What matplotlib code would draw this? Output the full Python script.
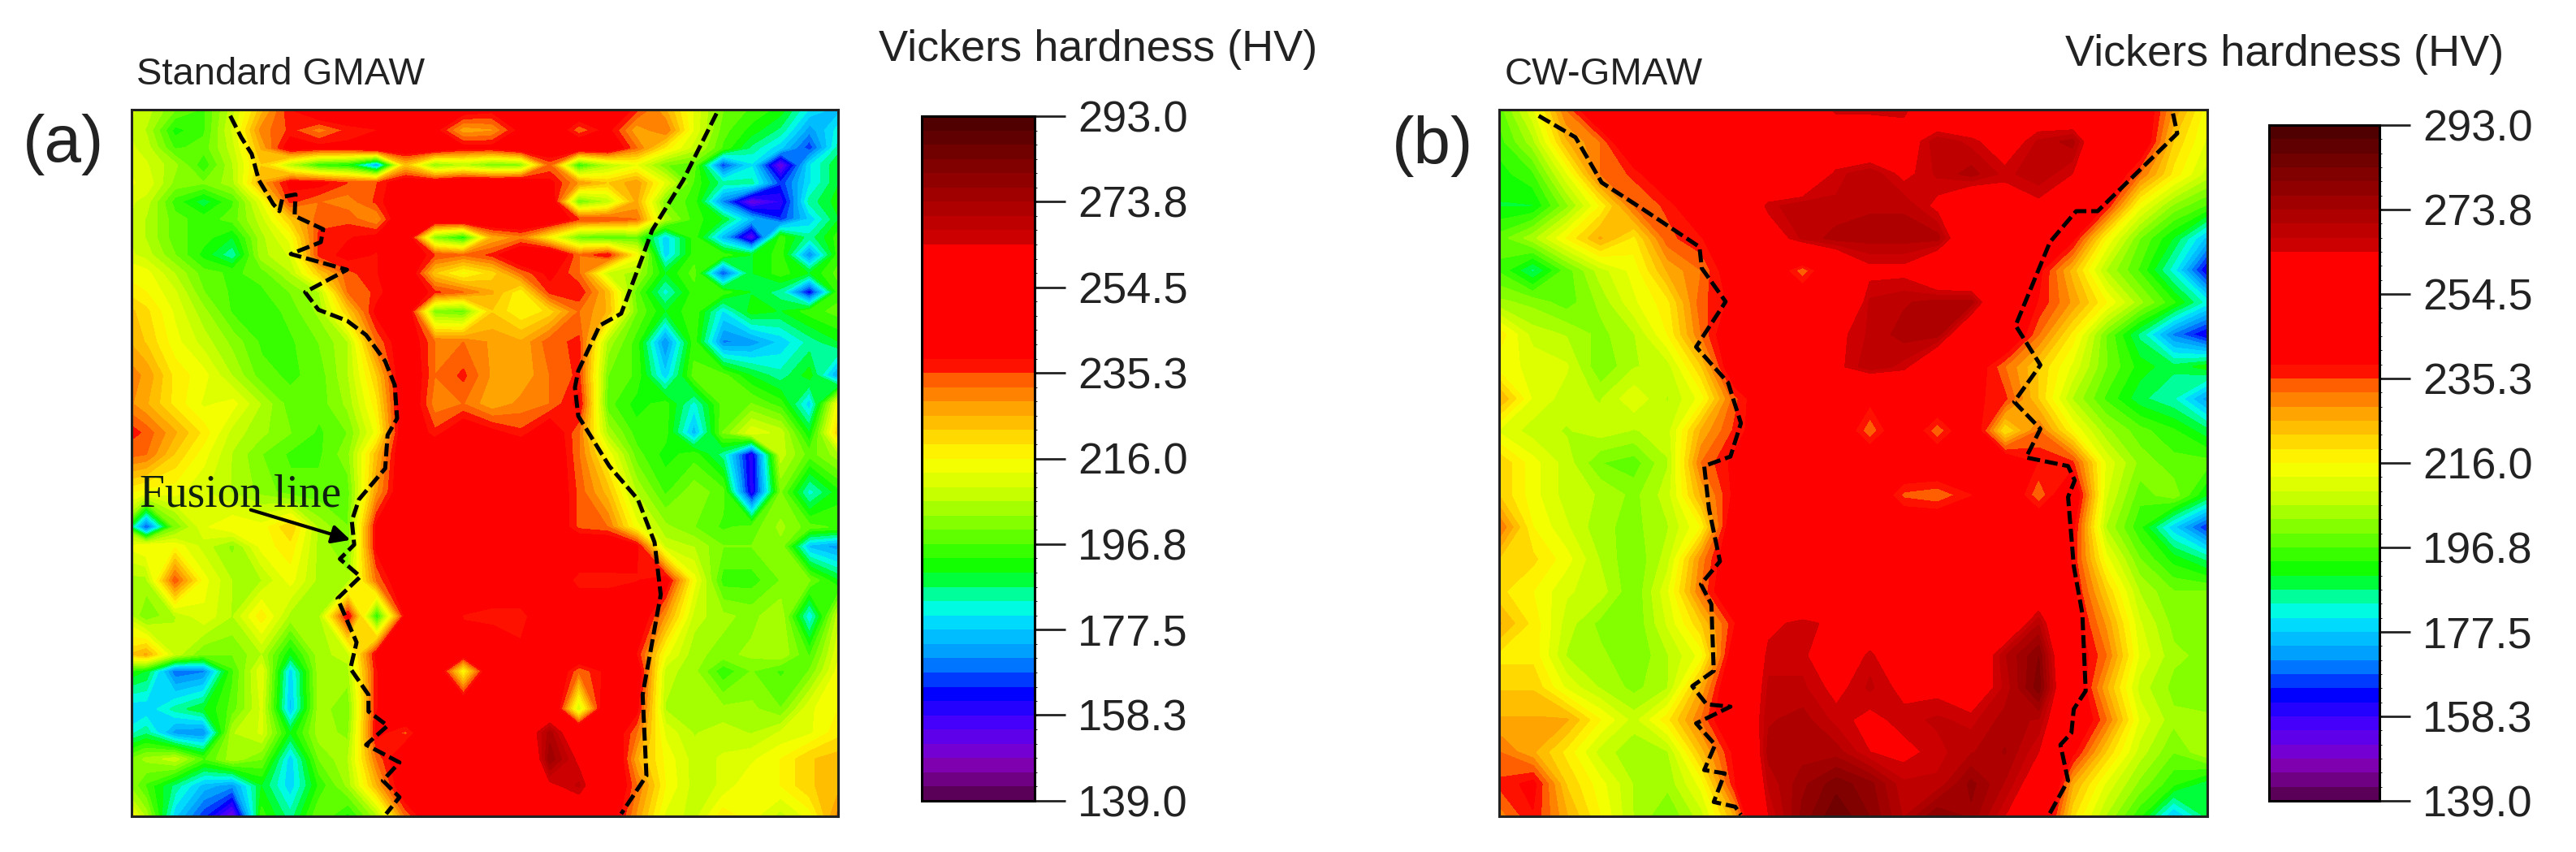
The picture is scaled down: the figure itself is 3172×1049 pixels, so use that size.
import matplotlib
matplotlib.use('Agg')
import matplotlib.pyplot as plt
import numpy as np
from matplotlib.colors import LinearSegmentedColormap, BoundaryNorm

W, H = 3172, 1049

# hardness scale
vmin, vmax = 139.0, 293.0
tick_vals = [139.0, 158.3, 177.5, 196.8, 216.0, 235.3, 254.5, 273.8, 293.0]
tick_labels = ['139.0', '158.3', '177.5', '196.8', '216.0', '235.3', '254.5', '273.8', '293.0']

xa = [8 + 60.5 * k for k in range(26)]
ya = [42, 85, 122, 158, 196, 235, 272, 310, 347, 385, 425, 465, 530, 600, 660, 720, 765, 845, 918, 958,
      1030, 1105, 1185, 1220, 1300, 1350, 1405, 1460, 1525]
hv_a = [
    [212,208,200,196,208,224,238,246,246,246,246,246,242,240,246,246,246,248,236,226,212,200,196,192,180,176],
    [212,206,192,196,210,230,236,230,236,238,248,240,226,228,240,246,232,240,226,232,212,198,192,186,172,182],
    [212,208,196,198,208,226,242,240,240,246,246,246,240,240,246,246,246,246,232,218,208,196,186,178,165,185],
    [214,210,204,194,206,222,205,192,190,170,222,200,205,198,200,232,192,205,212,200,198,165,180,150,180,190],
    [214,212,202,200,205,226,240,240,235,235,244,244,248,248,248,240,228,222,228,212,196,185,185,165,180,190],
    [212,208,195,188,196,212,236,232,230,236,246,246,246,248,248,246,198,206,226,200,195,170,150,158,185,192],
    [212,206,198,195,198,208,222,234,234,228,248,246,248,248,248,246,235,235,232,205,195,190,175,165,178,190],
    [212,206,198,195,190,205,214,236,238,240,246,200,190,225,230,215,198,195,198,178,195,175,152,195,185,195],
    [212,208,200,192,184,205,210,236,240,238,246,235,232,236,246,248,232,238,215,178,195,195,190,195,170,195],
    [216,214,206,198,196,198,206,222,234,238,246,222,214,220,232,240,232,208,205,190,198,165,190,195,190,198],
    [220,216,210,200,196,196,200,206,232,236,246,236,232,226,216,236,238,224,198,182,195,195,190,185,160,195],
    [226,220,212,204,196,194,198,204,222,240,246,200,198,222,216,220,232,225,200,190,196,180,192,190,195,198],
    [228,222,214,208,202,196,196,200,206,232,244,232,232,228,226,234,236,205,195,170,195,170,172,178,185,190],
    [232,228,218,214,206,198,196,198,206,222,246,232,236,228,226,232,236,200,196,178,198,198,190,185,192,172],
    [232,226,218,212,214,206,198,198,204,218,246,230,232,226,230,232,240,198,192,195,182,198,200,195,178,215],
    [240,234,226,218,208,204,200,196,200,214,246,236,244,240,236,244,232,205,195,195,175,200,212,208,190,222],
    [234,232,222,214,206,200,196,196,202,224,246,246,246,246,246,246,232,215,198,192,195,185,158,208,198,205],
    [218,214,214,210,206,202,198,198,198,228,246,246,246,246,246,246,234,224,206,196,202,198,158,200,182,192],
    [205,165,200,212,216,214,222,205,200,240,246,246,246,246,246,246,234,232,214,204,200,196,198,204,198,196],
    [212,216,215,208,202,214,218,205,200,240,246,240,246,246,246,246,246,246,240,208,206,200,200,202,176,172],
    [205,205,234,214,206,206,214,205,204,232,246,240,246,246,246,246,236,236,238,242,214,195,195,200,200,190],
    [212,200,206,212,206,218,205,205,240,192,240,246,238,236,236,246,246,246,246,228,208,204,202,206,180,208],
    [220,226,208,200,200,206,190,205,208,240,246,246,242,246,240,246,246,246,238,214,204,202,204,206,196,212],
    [196,190,168,170,196,212,178,205,205,238,248,248,214,248,246,248,232,240,244,208,204,194,200,196,200,214],
    [178,178,185,190,198,210,176,205,200,238,248,250,250,250,258,252,208,248,240,206,204,204,204,200,212,216],
    [180,186,172,170,206,210,190,205,202,240,234,248,250,252,254,272,252,246,232,212,206,208,206,210,212,218],
    [196,204,208,196,205,200,178,200,206,232,246,248,250,246,240,276,262,252,226,215,208,210,212,216,222,224],
    [208,196,186,176,172,190,178,194,204,225,246,248,250,248,248,262,268,250,232,216,208,210,216,216,222,224],
    [226,205,178,165,150,195,185,200,192,205,232,246,248,250,250,256,254,246,228,212,208,218,214,208,214,230],
]

# panel (b)
xb = [45 + 70.7 * k for k in range(22)]
yb = [42 + 67.4 * k for k in range(23)]
hv_b = [
    [198,212,232,248,255,258,250,252,248,250,266,266,266,250,248,258,255,250,246,246,228,214],
    [195,205,225,232,248,250,254,248,248,248,250,252,258,270,266,258,268,272,248,246,222,212],
    [192,196,212,232,236,246,248,248,248,248,266,270,262,268,272,266,270,264,248,232,218,208],
    [190,190,202,216,232,236,246,248,266,270,268,270,270,262,250,258,262,250,238,214,202,196],
    [198,205,216,226,218,234,238,246,258,268,272,272,272,272,250,256,248,240,216,200,190,176],
    [196,186,198,208,214,226,232,244,246,232,248,262,262,250,248,246,240,224,206,196,182,160],
    [204,202,198,204,212,218,234,240,246,246,246,268,270,272,272,246,238,228,216,204,194,182],
    [218,208,206,202,206,216,232,246,248,246,262,268,272,272,250,248,232,218,200,186,170,160],
    [214,212,210,200,206,208,222,246,246,246,262,270,266,250,244,232,222,212,200,192,188,192],
    [226,212,208,206,212,206,214,234,246,246,246,240,246,246,240,236,222,206,196,188,184,172],
    [212,208,206,208,206,208,226,236,244,246,246,232,246,232,246,218,232,216,204,198,194,188],
    [222,214,208,200,198,206,232,240,246,246,246,246,246,246,246,246,238,236,212,202,198,198],
    [222,214,208,206,202,208,226,240,246,246,246,246,234,232,238,246,232,246,210,198,202,190],
    [232,216,210,204,202,206,216,246,246,246,250,246,246,246,246,246,246,240,206,194,178,164],
    [222,220,214,206,200,208,230,246,246,246,246,246,246,246,246,246,246,238,214,200,192,186],
    [220,216,210,208,200,212,232,248,250,248,246,246,246,246,246,246,254,240,222,206,200,200],
    [226,218,208,202,200,210,222,238,262,266,262,252,246,246,246,252,270,242,228,210,202,200],
    [218,218,206,204,200,206,214,244,266,266,252,266,250,252,252,270,280,244,232,212,204,202],
    [222,222,212,206,202,206,226,248,268,268,262,268,262,262,256,268,282,246,226,208,202,200],
    [226,226,226,216,208,218,232,248,270,272,266,262,266,268,266,272,270,248,232,212,204,204],
    [232,226,218,208,204,206,224,240,272,272,272,264,262,266,270,274,264,240,222,208,200,206],
    [236,240,222,214,206,204,214,238,268,276,282,278,268,268,278,270,258,226,212,202,194,188],
    [230,238,226,216,206,200,208,226,264,278,286,280,270,280,276,264,250,220,206,194,176,188],
]

# fusion lines
fusion_a_left = [(245,55),(268,100),(290,135),(305,190),(335,240),(348,255),(355,225),(382,220),(380,265),(440,293),
                 (435,320),(372,345),(490,378),(402,425),(430,462),(490,485),(530,515),(570,570),(590,620),(595,690),
                 (575,725),(570,795),(515,860),(500,905),(505,955),(475,985),(518,1022),(470,1068),(510,1160),(497,1215),
                 (535,1270),(535,1305),(575,1335),(530,1375),(600,1412),(565,1450),(600,1485),(572,1520)]
fusion_a_right = [(1265,50),(1195,190),(1130,295),(1110,350),(1065,470),(1020,495),(975,590),(968,625),(975,685),
                  (1040,790),(1100,860),(1135,950),(1148,1060),(1110,1270),(1118,1440),(1065,1520)]
fusion_b_left = [(128,55),(205,100),(260,195),(345,250),(465,330),(470,375),(520,445),(458,540),(525,615),(552,700),
                 (530,770),(475,790),(485,880),(508,990),(468,1038),(490,1080),(495,1220),(450,1252),(480,1290),(530,1295),
                 (458,1330),(498,1375),(475,1428),(518,1435),(495,1495),(540,1505),(552,1522)]
fusion_b_right = [(1458,50),(1467,92),(1300,255),(1255,255),(1200,320),(1128,495),(1180,578),(1125,655),(1180,712),
                  (1150,772),(1238,790),(1252,820),(1238,855),(1250,1000),(1268,1100),(1275,1262),(1250,1300),(1245,1350),
                  (1222,1375),(1238,1450),(1198,1522)]

plt.rcParams['font.family'] = ['Liberation Sans', 'DejaVu Sans']

# colour scale with flat red plateau
stops = [(139, '#5a0058'), (145, '#8000a8'), (150, '#7000e0'), (156, '#4000ff'), (162, '#0000ff'), (170, '#0090ff'),
         (178, '#00d8ff'), (182, '#00ffe0'), (186, '#00ff80'), (190, '#00ff00'), (198, '#60ff00'), (207, '#c0ff00'),
         (216, '#ffff00'), (222, '#ffd000'), (228, '#ffa000'), (234, '#ff6000'), (238, '#ff0000'), (263.5, '#ff0000'),
         (264, '#d80000'), (275, '#a80000'), (285, '#780000'), (293, '#500000')]
cmap_full = LinearSegmentedColormap.from_list('hv', [((v - vmin) / (vmax - vmin), c) for v, c in stops], N=512)
n_bands = 48
levels = np.linspace(vmin, vmax, n_bands + 1)
cmap = cmap_full.resampled(n_bands)
norm = BoundaryNorm(levels, n_bands)


def px_axes(fig, x0, y0, x1, y1):
    return fig.add_axes([x0 / W, 1 - y1 / H, (x1 - x0) / W, (y1 - y0) / H])


def draw_panel(fig, box, xs, ys, hv, lines, xlim):
    ax = px_axes(fig, *box)
    cs = ax.contourf(xs, ys, np.array(hv, float), levels=levels, cmap=cmap, norm=norm)
    cs.set_edgecolor('face')
    cs.set_linewidth(0.8)
    for line in lines:
        p = np.array(line)
        ax.plot(p[:, 0], p[:, 1], color='black', lw=3.6, ls=(0, (3.2, 1.2)))
    ax.set_xlim(*xlim)
    ax.set_ylim(1525, 42)
    ax.set_xticks([])
    ax.set_yticks([])
    for s in ax.spines.values():
        s.set_linewidth(2.2)
        s.set_color('#222222')
    return ax, cs


def draw_bar(fig, box, cs):
    cax = px_axes(fig, *box)
    cb = fig.colorbar(cs, cax=cax, ticks=tick_vals, spacing='proportional')
    cb.ax.set_ylim(vmin, vmax)
    cb.set_ticklabels(tick_labels)
    cb.ax.tick_params(length=27, width=2, pad=11, labelsize=39, colors='#222222')
    cb.outline.set_linewidth(2.2)
    return cb


fig = plt.figure(figsize=(W / 100, H / 100), dpi=100, facecolor='white')

ax_a, cs_a = draw_panel(fig, (162, 135, 1032, 1005), xa, ya, hv_a, [fusion_a_left, fusion_a_right], (38, 1520))
ax_b, cs_b = draw_panel(fig, (1846, 135, 2718, 1005), xb, yb, hv_b, [fusion_b_left, fusion_b_right], (45, 1530))
draw_bar(fig, (1135, 143, 1274, 986), cs_a)
draw_bar(fig, (2794, 154, 2930, 986), cs_b)

ax_a.text(55, 875, 'Fusion line', family='Liberation Serif', fontsize=40, color='#102010', va='baseline')
ax_a.annotate('', xy=(497, 945), xytext=(288, 882),
              arrowprops=dict(arrowstyle='-|>', color='black', lw=3, mutation_scale=34, shrinkA=0, shrinkB=0))


def txt(x, y, s, size):
    fig.text(x / W, 1 - y / H, s, fontsize=size, ha='left', va='center', color='#222222')


txt(168, 92, 'Standard GMAW', 34)
txt(1853, 92, 'CW-GMAW', 34)
txt(1082, 61, 'Vickers hardness (HV)', 39)
txt(2543, 67, 'Vickers hardness (HV)', 39)
txt(28, 178, '(a)', 59)
txt(1714, 180, '(b)', 59)

fig.savefig('out.png', dpi=100)
